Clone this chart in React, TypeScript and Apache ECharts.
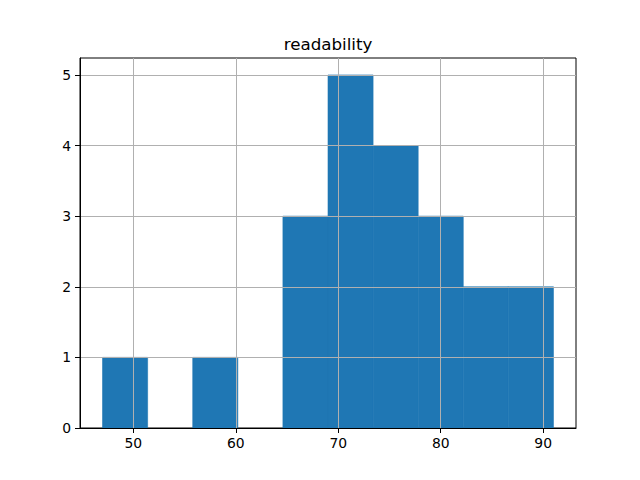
import React, { useEffect, useRef } from "react";
import * as echarts from "echarts";

const title = "readability";
const binEdges = [47, 51.4, 55.8, 60.2, 64.6, 69, 73.4, 77.8, 82.2, 86.6, 91];
const counts = [1, 0, 1, 0, 3, 5, 4, 3, 2, 2];
const xTicks = [50, 60, 70, 80, 90];
const yTicks = [0, 1, 2, 3, 4, 5];
const xRange = [44.8, 93.2];
const yRange = [0, 5.24];

export default function App() {
  const ref = useRef<HTMLDivElement>(null);
  useEffect(() => {
    if (!ref.current) return;
    const chart = echarts.init(ref.current, null, { renderer: "svg" });
    const data = counts.map((c, i) => [binEdges[i], binEdges[i + 1], c]);
    const font = "DejaVu Sans";
    chart.setOption({
      animation: false,
      backgroundColor: "#ffffff",
      grid: {
        left: 80,
        top: 58,
        width: 496,
        height: 370,
        show: true,
        borderColor: "#000000",
        borderWidth: 1,
        backgroundColor: "transparent",
      },
      graphic: [
        {
          type: "text",
          x: 328,
          y: 44,
          style: {
            text: title,
            fontFamily: font,
            fontSize: 16.7,
            fill: "#000000",
            align: "center",
            verticalAlign: "middle",
          },
        },
      ],
      xAxis: {
        type: "value",
        min: xRange[0],
        max: xRange[1],
        z: 10,
        axisLine: { show: true, onZero: false, lineStyle: { color: "#000000", width: 1 } },
        axisTick: { show: true, length: 5, customValues: xTicks, lineStyle: { color: "#000000" } },
        axisLabel: {
          customValues: xTicks,
          margin: 8,
          fontFamily: font,
          fontSize: 13.9,
          color: "#000000",
        },
        splitLine: { show: false },
      },
      yAxis: {
        type: "value",
        min: yRange[0],
        max: yRange[1],
        z: 10,
        axisLine: { show: true, onZero: false, lineStyle: { color: "#000000", width: 1 } },
        axisTick: { show: true, length: 5, customValues: yTicks, lineStyle: { color: "#000000" } },
        axisLabel: {
          customValues: yTicks,
          margin: 9,
          fontFamily: font,
          fontSize: 13.9,
          color: "#000000",
        },
        splitLine: { show: false },
      },
      series: [
        {
          type: "custom",
          data,
          encode: { x: [0, 1], y: 2 },
          renderItem: (params: any, api: any) => {
            const x0 = api.value(0);
            const x1 = api.value(1);
            const c = api.value(2);
            if (!c) return null;
            const p0 = api.coord([x0, c]);
            const p1 = api.coord([x1, 0]);
            return {
              type: "rect",
              shape: { x: p0[0], y: p0[1], width: p1[0] - p0[0], height: p1[1] - p0[1] },
              style: { fill: "#1f77b4", stroke: "#1f77b4", lineWidth: 0.6 },
            };
          },
          markLine: {
            silent: true,
            symbol: "none",
            z: 5,
            label: { show: false },
            lineStyle: { color: "#b0b0b0", width: 1, type: "solid" },
            emphasis: { disabled: true },
            data: [
              ...xTicks.map((v) => ({ xAxis: v })),
              ...yTicks.filter((v) => v > 0).map((v) => ({ yAxis: v })),
            ],
          },
        },
      ],
    });
    return () => chart.dispose();
  }, []);
  return (
    <div
      ref={ref}
      style={{ position: "fixed", left: 0, top: 0, width: 640, height: 480 }}
    />
  );
}
